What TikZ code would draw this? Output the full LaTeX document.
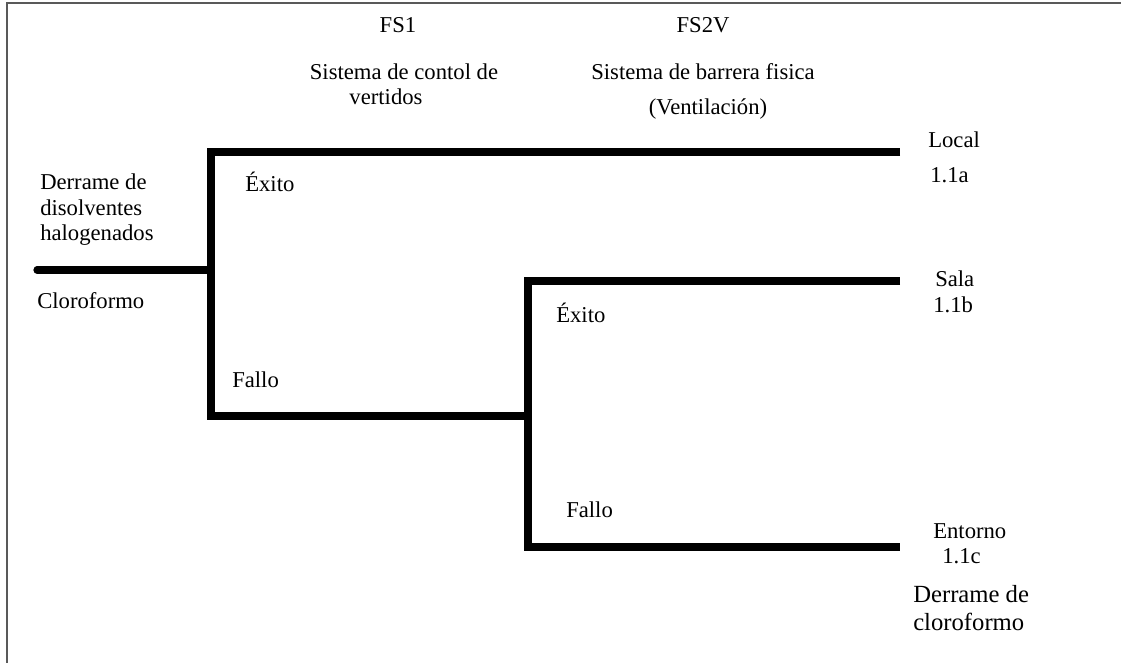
\documentclass[tikz,border=0pt]{standalone}
\usepackage{fontspec}
\setmainfont{Liberation Serif}
\usetikzlibrary{positioning}

\begin{document}
\begin{tikzpicture}[x=0.75pt, y=-0.75pt,
    branch/.style={line width=5.4pt, line join=miter},
    lbl/.style={font=\fontsize{17}{19}\selectfont, inner sep=0pt, anchor=base west},
    head/.style={font=\fontsize{17}{19}\selectfont, inner sep=0pt, anchor=base, align=center}]
    \useasboundingbox (0,0) rectangle (1121,663);
    % frame (left and top edges only)
    \draw[black!65, line width=1.5pt] (7,663) -- (7,3) -- (1121,3);

    % column headings
    \node[head] (fs1) at (398, 33) {FS1};
    \node[head] (fs1d) at (404, 80) {Sistema de contol de};
    \node[head] (fs1e) at (386, 105) {vertidos};
    \node[head] (fs2) at (703, 33) {FS2V};
    \node[head] (fs2d) at (703, 80) {Sistema de barrera fisica};
    \node[head] (fs2e) at (708, 115) {(Ventilación)};

    % initiating event
    \node[lbl] (ev1) at (40, 190) {Derrame de};
    \node[lbl] (ev2) at (40, 215) {disolventes};
    \node[lbl] (ev3) at (40, 240) {halogenados};
    \node[lbl] (ev4) at (37, 308) {Cloroformo};

    % tree junctions
    \coordinate (root) at (37, 270);
    \coordinate (v1top) at (211, 152);
    \coordinate (v1mid) at (211, 270);
    \coordinate (v1bot) at (211, 416);
    \coordinate (v2top) at (528, 281);
    \coordinate (v2mid) at (528, 416);
    \coordinate (v2bot) at (528, 547);
    \coordinate (endA) at (900, 152);
    \coordinate (endB) at (900, 281);
    \coordinate (endC) at (900, 547);

    \draw[branch, line cap=round] (root) -- (v1mid);
    \draw[branch] (endA) -- (v1top) -- (v1bot) -- (v2mid);
    \draw[branch] (endB) -- (v2top) -- (v2bot) -- (endC);

    % branch labels
    \node[lbl] (s1) at (245, 192) {Éxito};
    \node[lbl] (f1) at (232, 387) {Fallo};
    \node[lbl] (s2) at (556, 322) {Éxito};
    \node[lbl] (f2) at (566, 517) {Fallo};

    % outcomes
    \node[lbl] (oa) at (928, 148) {Local};
    \node[lbl] (oa2) at (930, 183) {1.1a};
    \node[lbl] (ob) at (935, 286) {Sala};
    \node[lbl] (ob2) at (933, 312) {1.1b};
    \node[lbl] (oc) at (933, 538) {Entorno};
    \node[lbl] (oc2) at (942, 563) {1.1c};
    \node[lbl, font=\fontsize{18.5}{20}\selectfont] (od) at (913, 602) {Derrame de};
    \node[lbl, font=\fontsize{18.5}{20}\selectfont] (od2) at (913, 630) {cloroformo};
\end{tikzpicture}
\end{document}
